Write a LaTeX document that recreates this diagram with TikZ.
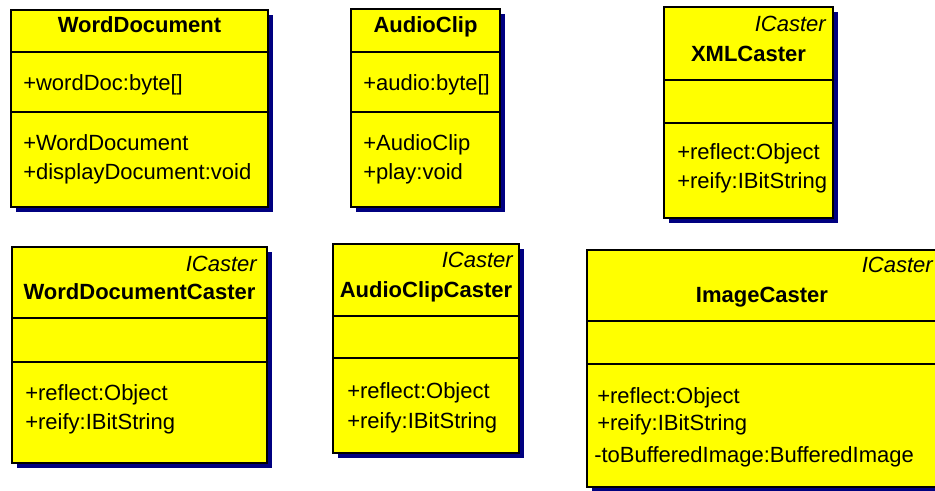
\documentclass[tikz,border=0pt]{standalone}
\usepackage{fontspec}
\setmainfont{Liberation Sans}
\definecolor{umlyellow}{RGB}{255,255,0}
\definecolor{umlshadow}{RGB}{0,0,128}
\begin{document}
\begin{tikzpicture}[x=0.75pt,y=-0.75pt,
  classbox/.style={draw=black, line width=1.5pt, fill=umlyellow},
  classshadow/.style={fill=umlshadow},
  classsep/.style={draw=black, line width=1.2pt},
  cname/.style={inner sep=0pt, anchor=base, font=\fontsize{16.5}{20}\selectfont\bfseries},
  stereo/.style={inner sep=0pt, anchor=base east, font=\fontsize{16.5}{20}\selectfont\itshape},
  member/.style={inner sep=0pt, anchor=base west, font=\fontsize{16.5}{20}\selectfont}]
\clip (0,0) rectangle (935,491);
\fill[white] (0,0) rectangle (935,491);
\fill[classshadow] (16,15) rectangle (273,212);
\draw[classbox] (11,10) rectangle (268,207);
\draw[classsep] (11,52) -- (268,52);
\draw[classsep] (11,112) -- (268,112);
\node[cname] (wdname) at (139.5,33) {WordDocument};
\node[member] (wdattr0) at (23,91) {+wordDoc:byte[]};
\node[member] (wdop0) at (23,151) {+WordDocument};
\node[member] (wdop1) at (23,180) {+displayDocument:void};
\fill[classshadow] (356,14) rectangle (505,212);
\draw[classbox] (351,9) rectangle (500,207);
\draw[classsep] (351,52) -- (500,52);
\draw[classsep] (351,112) -- (500,112);
\node[cname] (acname) at (425.5,33) {AudioClip};
\node[member] (acattr0) at (363,91) {+audio:byte[]};
\node[member] (acop0) at (363,151) {+AudioClip};
\node[member] (acop1) at (363,180) {+play:void};
\fill[classshadow] (669,12) rectangle (838,223);
\draw[classbox] (664,7) rectangle (833,218);
\draw[classsep] (664,80) -- (833,80);
\draw[classsep] (664,123) -- (833,123);
\node[stereo] (xcstereo) at (826,32) {ICaster};
\node[cname] (xcname) at (748.5,62) {XMLCaster};
\node[member] (xcop0) at (677,160) {+reflect:Object};
\node[member] (xcop1) at (677,189) {+reify:IBitString};
\fill[classshadow] (17,252) rectangle (272,468);
\draw[classbox] (12,247) rectangle (267,463);
\draw[classsep] (12,318) -- (267,318);
\draw[classsep] (12,362) -- (267,362);
\node[stereo] (wcstereo) at (257,272) {ICaster};
\node[cname] (wcname) at (139.5,300) {WordDocumentCaster};
\node[member] (wcop0) at (25,401) {+reflect:Object};
\node[member] (wcop1) at (25,430) {+reify:IBitString};
\fill[classshadow] (338,249) rectangle (524,458);
\draw[classbox] (333,244) rectangle (519,453);
\draw[classsep] (333,316) -- (519,316);
\draw[classsep] (333,358) -- (519,358);
\node[stereo] (cstereo) at (513,268) {ICaster};
\node[cname] (ccname) at (426,298) {AudioClipCaster};
\node[member] (ccop0) at (347,398) {+reflect:Object};
\node[member] (ccop1) at (347,428) {+reify:IBitString};
\fill[classshadow] (592,255) rectangle (942,492);
\draw[classbox] (587,250) rectangle (937,487);
\draw[classsep] (587,321) -- (937,321);
\draw[classsep] (587,364) -- (937,364);
\node[stereo] (icstereo) at (933,273) {ICaster};
\node[cname] (icname) at (762,303) {ImageCaster};
\node[member] (icop0) at (597,403) {+reflect:Object};
\node[member] (icop1) at (597,431) {+reify:IBitString};
\node[member] (icop2) at (594,462) {-toBufferedImage:BufferedImage};
\end{tikzpicture}
\end{document}
